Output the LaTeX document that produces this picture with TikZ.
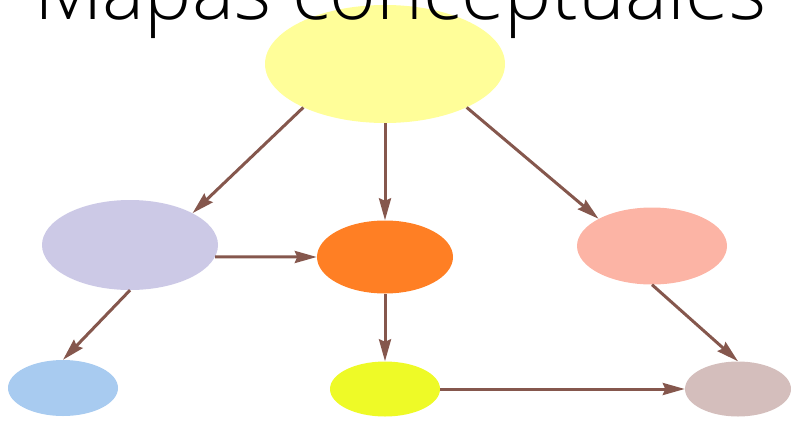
\documentclass[tikz,border=0pt]{standalone}
\usepackage{fontspec}
\usetikzlibrary{arrows.meta,shapes.geometric}
\newfontfamily\titleFont{Open Sans Light}
\definecolor{arrowBrown}{RGB}{133,87,77}
\definecolor{mainYellow}{RGB}{255,254,153}
\definecolor{lavender}{RGB}{204,201,230}
\definecolor{deepOrange}{RGB}{255,127,36}
\definecolor{salmon}{RGB}{252,180,165}
\definecolor{skyBlue}{RGB}{168,203,240}
\definecolor{limeYellow}{RGB}{238,250,39}
\definecolor{greyPink}{RGB}{212,190,188}
\newcommand{\myConcept}[5]{%%
  %% Draw one concept as a filled ellipse.
  \node[conceptStyle,fill=#2,minimum width=#3,minimum height=#4] (#1) at (#5) {};
}

\begin{document}
\begin{tikzpicture}[x=1pt,y=-1pt,%%
  arrowStyle/.style={-{Stealth[length=22pt,width=12pt,inset=2.5pt]},line width=3pt,arrowBrown},%%
  conceptStyle/.style={ellipse,draw=none,inner sep=0pt}
]
%%
%%
\useasboundingbox (0,0) rectangle (791,420);
\pgfmathsetmacro{\midx}{385}
\coordinate (topCentre) at (\midx,64);
\coordinate (lavCentre) at (130,245);
\coordinate (orangeCentre) at (\midx,257);
\coordinate (salmonCentre) at (652,246);
\coordinate (blueCentre) at (63,388);
\coordinate (limeCentre) at (\midx,389);
\coordinate (greyCentre) at (738,389);
%%
%% The concepts.
\myConcept{top}{mainYellow}{240pt}{118pt}{topCentre}
\myConcept{lav}{lavender}{176pt}{90pt}{lavCentre}
\myConcept{orange}{deepOrange}{136pt}{73pt}{orangeCentre}
\myConcept{salmon}{salmon}{150pt}{77pt}{salmonCentre}
\myConcept{blue}{skyBlue}{110pt}{56pt}{blueCentre}
\myConcept{lime}{limeYellow}{110pt}{55pt}{limeCentre}
\myConcept{grey}{greyPink}{106pt}{55pt}{greyCentre}
%%
%% Title over the top concept, cut off by the top edge.
\node[anchor=base west,inner sep=0pt,font=\titleFont\fontsize{79.5}{80}\selectfont] (title) at (34,20) {Mapas conceptuales};
%%
%% The links between them.
\draw[arrowStyle] (top.208) -- (lav.27);
\draw[arrowStyle] (top.south) -- (orange.north);
\draw[arrowStyle] (top.332) -- (salmon.153);
\draw[arrowStyle] (lav.352) -- (orange.west);
\draw[arrowStyle] (lav.south) -- (blue.north);
\draw[arrowStyle] (orange.south) -- (lime.north);
\draw[arrowStyle] (salmon.south) -- (grey.north);
\draw[arrowStyle] (lime.east) -- (grey.west);

\end{tikzpicture}
\end{document}
